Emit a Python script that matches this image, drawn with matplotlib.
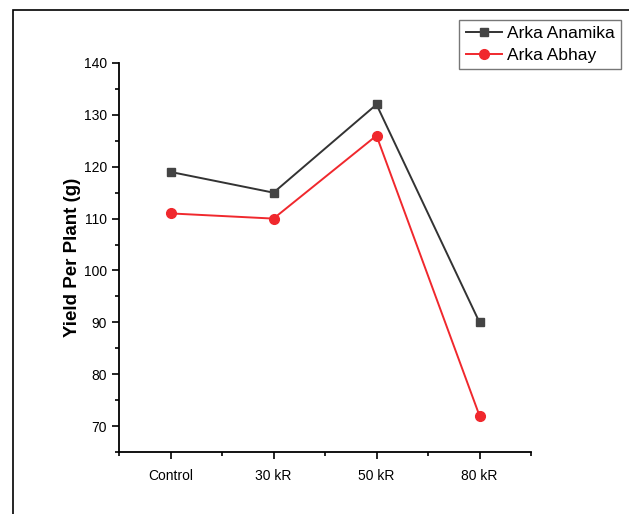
import matplotlib
matplotlib.use("Agg")
import matplotlib.pyplot as plt
from matplotlib.patches import Rectangle
from matplotlib.ticker import MultipleLocator

categories = ["Control", "30 kR", "50 kR", "80 kR"]
anamika = [119, 115, 132, 90]
abhay = [111, 110, 126, 72]

plt.rcParams["font.family"] = ["Liberation Sans", "DejaVu Sans"]

W, H = 629, 514
fig = plt.figure(figsize=(W / 100, H / 100), dpi=100)

# outer frame (only left and top edges visible in the crop)
fig.patches.append(Rectangle((13 / W, -0.05), 1.1, 1 - 10 / H + 0.05,
                             transform=fig.transFigure, fill=False,
                             edgecolor="black", linewidth=1.2))

ax = fig.add_axes([119 / W, 1 - 452 / H, (531 - 119) / W, (452 - 63) / H])

x = range(len(categories))
ax.plot(x, anamika, color="#333333", marker="s", markersize=6,
        markerfacecolor="#444444", markeredgecolor="#444444", linewidth=1.4,
        label="Arka Anamika")
ax.plot(x, abhay, color="#f0282d", marker="o", markersize=7,
        markerfacecolor="#f0282d", markeredgecolor="#f0282d", linewidth=1.4,
        label="Arka Abhay")

ax.set_xlim(-0.5, 3.5)
ax.set_ylim(65, 140)
ax.set_xticks(list(x))
ax.set_xticklabels(categories)
ax.xaxis.set_minor_locator(MultipleLocator(0.5))
ax.yaxis.set_major_locator(MultipleLocator(10))
ax.yaxis.set_minor_locator(MultipleLocator(5))
ax.tick_params(which="major", direction="out", length=5, width=1.2, labelsize=10)
ax.tick_params(which="minor", direction="out", length=3, width=1.2)
ax.tick_params(axis="x", pad=7)
ax.spines["top"].set_visible(False)
ax.spines["right"].set_visible(False)
ax.spines["left"].set_linewidth(1.3)
ax.spines["bottom"].set_linewidth(1.3)

ax.set_ylabel("Yield Per Plant (g)", fontsize=13.5, fontweight="bold", labelpad=2)

leg = fig.legend(loc="upper right", bbox_to_anchor=(621 / W, 1 - 20 / H),
                 fontsize=12.5, frameon=True, fancybox=False, handlelength=2.1,
                 borderpad=0.35, labelspacing=0.4, handletextpad=0.3,
                 borderaxespad=0)
leg.get_frame().set_edgecolor("#555555")
leg.get_frame().set_linewidth(1.0)

fig.savefig("out.png", dpi=100)
